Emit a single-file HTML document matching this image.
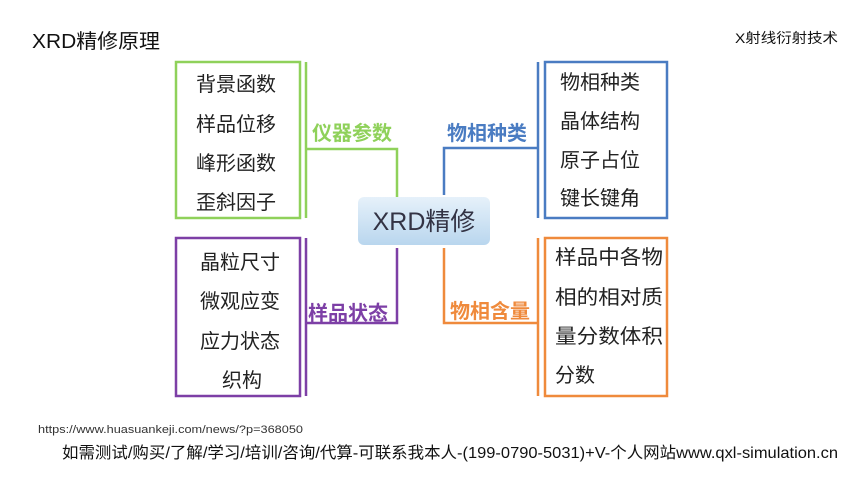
<!DOCTYPE html>
<html><head><meta charset="utf-8"><style>
html,body{margin:0;padding:0;background:#fff;}
svg{display:block;}
text{font-family:"Liberation Sans","Noto Sans CJK SC",sans-serif;}
</style></head><body>
<svg width="860" height="484" viewBox="0 0 860 484" xmlns="http://www.w3.org/2000/svg">
<defs>
<linearGradient id="cg" x1="0" y1="0" x2="0" y2="1">
<stop offset="0" stop-color="#e6f1fa"/><stop offset="1" stop-color="#b9d6ee"/>
</linearGradient>
</defs>
<rect width="860" height="484" fill="#fff"/>
<text x="32" y="48" font-size="20" fill="#111" textLength="128" lengthAdjust="spacingAndGlyphs">XRD精修原理</text>
<text x="735" y="43" font-size="14" fill="#111" textLength="103" lengthAdjust="spacingAndGlyphs">X射线衍射技术</text>

<!-- green -->
<rect x="176" y="62" width="124" height="156" fill="none" stroke="#8fd15a" stroke-width="2.5"/>
<g font-size="20" fill="#222">
<text x="196" y="91">背景函数</text><text x="196" y="131">样品位移</text><text x="196" y="170">峰形函数</text><text x="196" y="209">歪斜因子</text>
</g>
<polyline points="306,62 306,218" fill="none" stroke="#8fd15a" stroke-width="2.5"/>
<polyline points="306,149 397,149 397,197" fill="none" stroke="#8fd15a" stroke-width="2.5"/>
<text x="312" y="140" font-size="20" font-weight="bold" fill="#8fd15a">仪器参数</text>

<!-- purple -->
<rect x="176" y="238" width="124" height="158" fill="none" stroke="#7d3fa6" stroke-width="2.5"/>
<g font-size="20" fill="#222">
<text x="200" y="269">晶粒尺寸</text><text x="200" y="308">微观应变</text><text x="200" y="348">应力状态</text><text x="222" y="387">织构</text>
</g>
<polyline points="306,238 306,396" fill="none" stroke="#7d3fa6" stroke-width="2.5"/>
<polyline points="306,323 397,323 397,248" fill="none" stroke="#7d3fa6" stroke-width="2.5"/>
<text x="308" y="320" font-size="20" font-weight="bold" fill="#7d3fa6">样品状态</text>

<!-- blue -->
<rect x="545" y="62" width="122" height="156" fill="none" stroke="#4a7cc2" stroke-width="2.5"/>
<g font-size="20" fill="#222">
<text x="560" y="89">物相种类</text><text x="560" y="128">晶体结构</text><text x="560" y="167">原子占位</text><text x="560" y="205">键长键角</text>
</g>
<polyline points="538,62 538,218" fill="none" stroke="#4a7cc2" stroke-width="2.5"/>
<polyline points="538,148 444,148 444,195" fill="none" stroke="#4a7cc2" stroke-width="2.5"/>
<text x="447" y="140" font-size="20" font-weight="bold" fill="#4a7cc2">物相种类</text>

<!-- orange -->
<rect x="545" y="238" width="122" height="158" fill="none" stroke="#ef8a3c" stroke-width="2.5"/>
<g font-size="20" fill="#222">
<text x="555" y="264" textLength="108" lengthAdjust="spacingAndGlyphs">样品中各物</text>
<text x="555" y="304" textLength="108" lengthAdjust="spacingAndGlyphs">相的相对质</text>
<text x="555" y="343" textLength="108" lengthAdjust="spacingAndGlyphs">量分数体积</text>
<text x="555" y="382">分数</text>
</g>
<polyline points="538,238 538,396" fill="none" stroke="#ef8a3c" stroke-width="2.5"/>
<polyline points="538,323 444,323 444,248" fill="none" stroke="#ef8a3c" stroke-width="2.5"/>
<text x="450" y="318" font-size="20" font-weight="bold" fill="#ef8a3c">物相含量</text>

<!-- center -->
<rect x="358" y="197" width="132" height="48" rx="6" fill="url(#cg)"/>
<text x="424" y="230" font-size="25" fill="#334" text-anchor="middle">XRD精修</text>

<text x="38" y="433" font-size="11" fill="#333" textLength="265" lengthAdjust="spacingAndGlyphs">https://www.huasuankeji.com/news/?p=368050</text>
<text x="62" y="458" font-size="16" fill="#111" textLength="776" lengthAdjust="spacingAndGlyphs">如需测试/购买/了解/学习/培训/咨询/代算-可联系我本人-(199-0790-5031)+V-个人网站www.qxl-simulation.cn</text>
</svg>
</body></html>
